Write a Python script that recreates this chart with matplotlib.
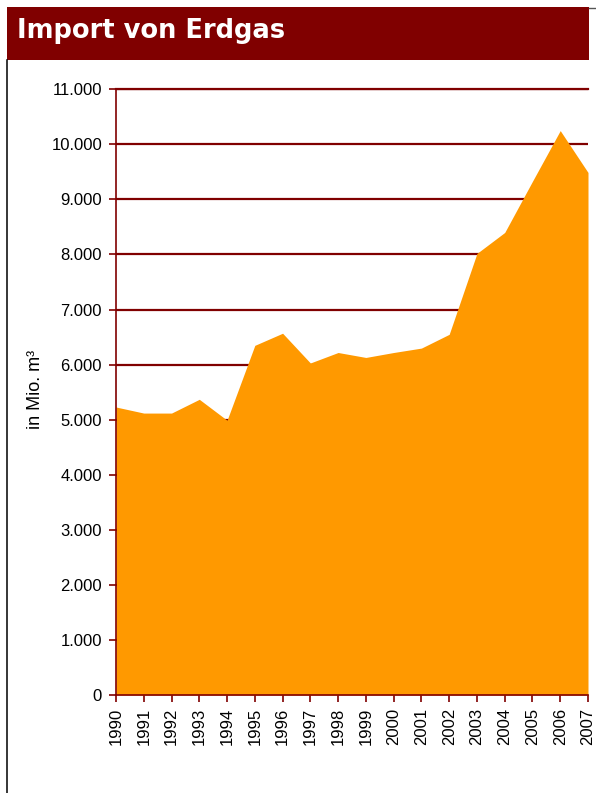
import matplotlib.pyplot as plt
from matplotlib.patches import Rectangle
from matplotlib.lines import Line2D
from matplotlib.ticker import FuncFormatter

# Import von Erdgas, in Mio. m³
jahre = list(range(1990, 2008))
import_mio_m3 = [5230, 5120, 5120, 5370, 4990, 6350, 6570, 6030, 6220, 6130,
                 6220, 6300, 6550, 8020, 8400, 9330, 10250, 9490]

DUNKELROT = "#800000"
ORANGE = "#FF9900"

fig = plt.figure(figsize=(5.96, 7.93), dpi=100)
W, H = 596, 793

# Titelbalken
fig.patches.append(Rectangle((7 / W, 1 - 60 / H), 582 / W, 53 / H,
                             transform=fig.transFigure, facecolor=DUNKELROT,
                             edgecolor="none", zorder=0))
fig.text(17 / W, 1 - 31 / H, "Import von Erdgas", color="white",
         fontsize=18.5, fontweight="bold", family="DejaVu Sans", va="center")
fig.lines.append(Line2D([7.5 / W, 7.5 / W], [0, 1 - 60 / H],
                        transform=fig.transFigure, color="black", lw=1.1))
fig.lines.append(Line2D([589 / W, 596 / W], [1 - 7.5 / H, 1 - 7.5 / H],
                        transform=fig.transFigure, color="#555555", lw=1))

ax = fig.add_axes([116 / W, 1 - 695 / H, 472 / W, 605.7 / H])
ax.fill_between(jahre, import_mio_m3, 0, color=ORANGE, lw=0, zorder=2)
ax.set_xlim(1990, 2007)
ax.set_ylim(0, 11000)
ax.set_yticks(range(0, 11001, 1000))
ax.set_xticks(jahre)
ax.yaxis.set_major_formatter(
    FuncFormatter(lambda v, _: f"{int(v):,}".replace(",", ".")))
ax.set_xticklabels([str(j) for j in jahre], rotation=90)

ax.grid(axis="y", color=DUNKELROT, lw=1.6, zorder=1)
# oberste Gitterlinie liegt auf dem Achsenrand, ungeclippt nachziehen
ax.axhline(11000, color=DUNKELROT, lw=1.6, zorder=1, clip_on=False)
ax.set_axisbelow(True)
for s in ("top", "right"):
    ax.spines[s].set_visible(False)
for s in ("left", "bottom"):
    ax.spines[s].set_color(DUNKELROT)
    ax.spines[s].set_linewidth(1.2)
    ax.spines[s].set_zorder(3)

ax.tick_params(axis="both", colors=DUNKELROT, length=5, width=1.2,
               labelcolor="black", labelsize=12)
for lab in ax.get_xticklabels() + ax.get_yticklabels():
    lab.set_family("Liberation Sans")
ax.tick_params(axis="y", pad=5)
ax.tick_params(axis="x", pad=4)

ax.set_ylabel("in Mio. m³", fontsize=13, family="Liberation Sans")
ax.yaxis.set_label_coords(-72 / 472, 0.505)

fig.savefig("out.png", dpi=100)
